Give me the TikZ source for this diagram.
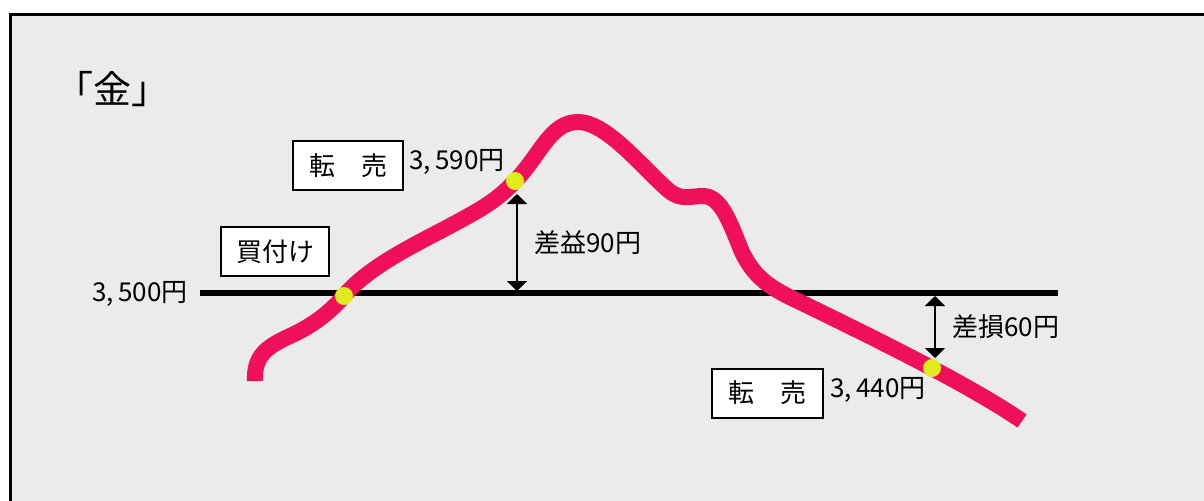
\documentclass[tikz,border=0pt]{standalone}
\usepackage{fontspec}
\setmainfont{Noto Sans CJK JP}
\usetikzlibrary{arrows.meta}
\definecolor{bgray}{RGB}{235,235,235}
\definecolor{pinkline}{RGB}{240,16,90}
\definecolor{ydot}{RGB}{224,235,30}
\tikzset{
  lbl/.style={font=\fontsize{13pt}{15pt}\selectfont, inner sep=0pt},
  tagbox/.style={draw=black, line width=1pt, fill=white, font=\fontsize{13pt}{15pt}\selectfont, inner sep=0pt, minimum height=24.5pt},
  dimarrow/.style={line width=1pt, {Triangle[width=10pt,length=5pt]}-{Triangle[width=10pt,length=5pt]}},
  dot/.style={circle, fill=ydot, inner sep=0pt, minimum size=9pt},
}
\begin{document}
\begin{tikzpicture}[x=0.5pt,y=-0.5pt]
\useasboundingbox (0,0) rectangle (1204,500);
\clip (0,0) rectangle (1204,500);
\fill[white] (0,0) rectangle (1204,500);
\draw[line width=1.5pt, fill=bgray] (10.5,14.5) rectangle (1215,515);

% title
\node[font=\fontsize{19pt}{21pt}\selectfont, inner sep=0pt] (title) at (112,89) {「金」};

% base line
\coordinate (L0) at (200,293);
\coordinate (L1) at (1058,293);
\draw[line width=3pt] (L0) -- (L1);

% price curve
\draw[pinkline, line width=8pt, line cap=butt]
  (255,381) .. controls (254,356) and (266,347) .. (290,336)
  .. controls (314,325) and (330,312) .. (344,296)
  .. controls (372,262) and (430,238) .. (470,215)
  .. controls (492,203) and (505,192) .. (515,181)
  .. controls (540,156) and (550,122) .. (578,122)
  .. controls (606,122) and (640,165) .. (668,190)
  .. controls (681,201) and (690,196) .. (703,196)
  .. controls (722,196) and (731,226) .. (742,252)
  .. controls (755,279) and (772,289) .. (800,302)
  .. controls (870,336) and (970,385) .. (1022,421);

% dots
\node[dot] (d1) at (344,296) {};
\node[dot] (d2) at (515,181) {};
\node[dot] (d3) at (932,368) {};

% labels
\node[lbl, anchor=east] (p3500) at (188,294) {3,\,500円};
\node[tagbox, minimum width=54pt] (buy) at (275,251.5) {買付け};
\node[tagbox, minimum width=55pt] (sell1) at (348,165.5) {転　売};
\node[lbl, anchor=west] (p3590) at (409,162) {3,\,590円};
\node[tagbox, minimum width=55.5pt] (sell2) at (767.5,393) {転　売};
\node[lbl, anchor=west] (p3440) at (830,390) {3,\,440円};

% gain arrow
\coordinate (g0) at (517,194);
\coordinate (g1) at (517,291);
\draw[dimarrow] (g0) -- (g1);
\node[lbl, anchor=west] (gain) at (534,243) {差益90円};

% loss arrow
\coordinate (l0) at (935,296);
\coordinate (l1) at (935,358);
\draw[dimarrow] (l0) -- (l1);
\node[lbl, anchor=west] (loss) at (952,327) {差損60円};
\end{tikzpicture}
\end{document}
